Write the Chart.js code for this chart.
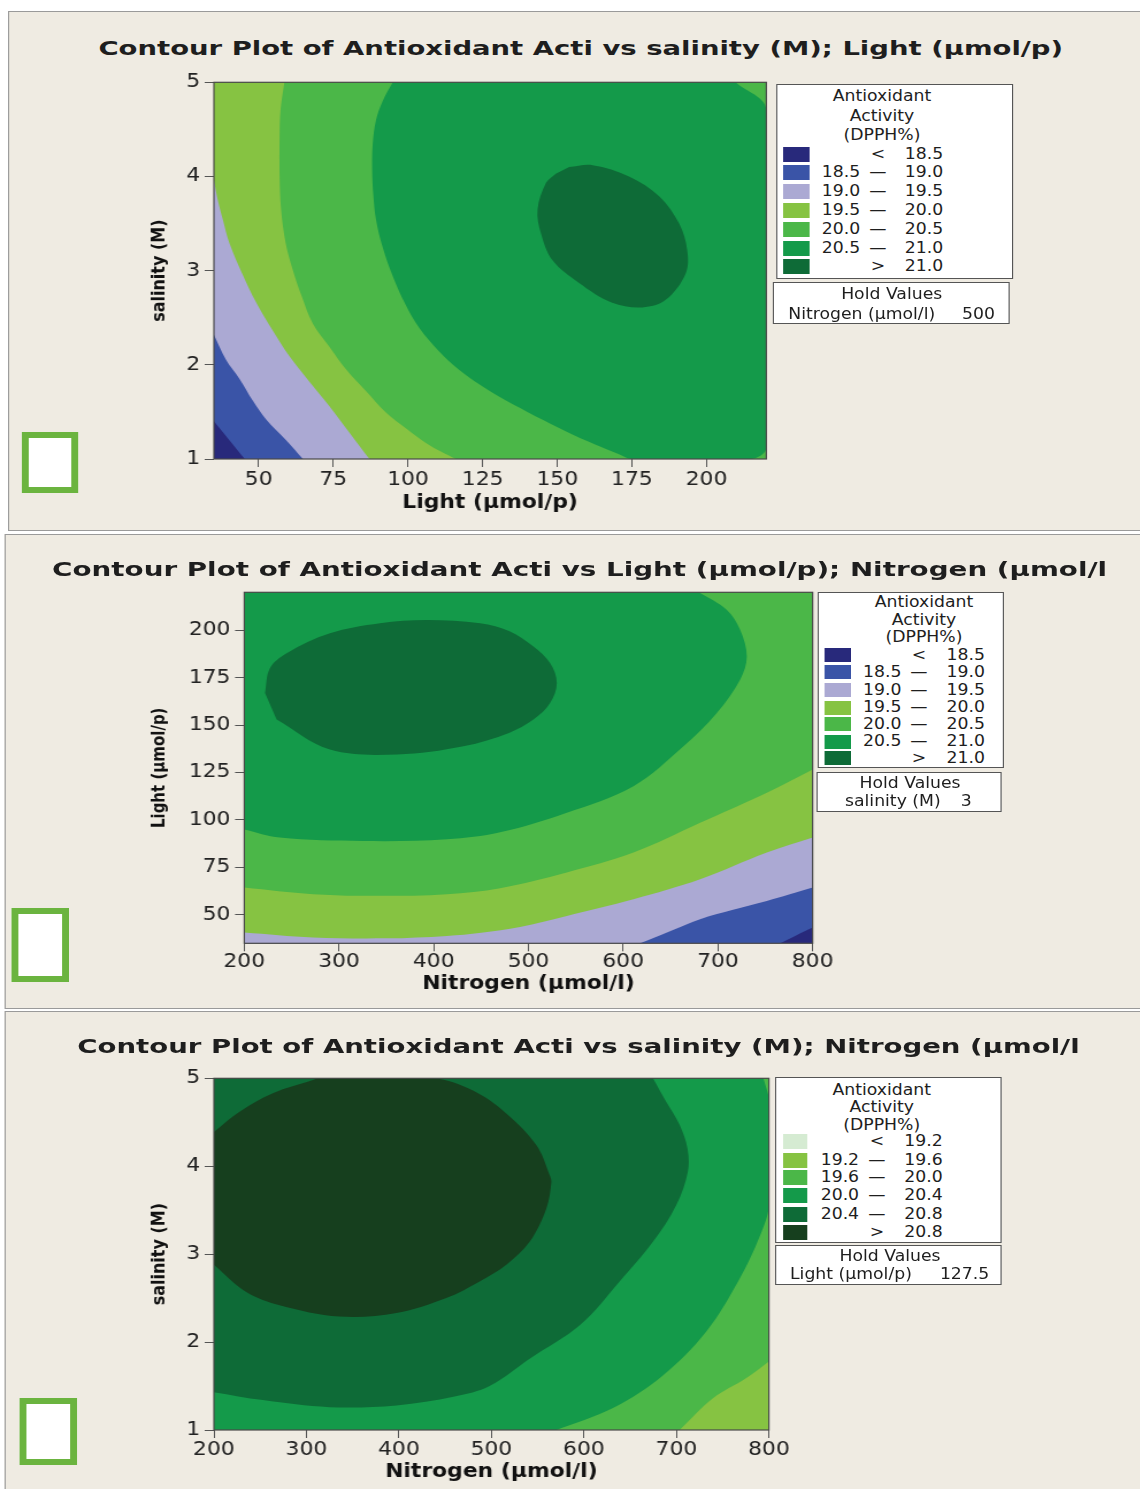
<!DOCTYPE html>
<html>
<head>
<meta charset="utf-8">
<script src="https://cdn.jsdelivr.net/npm/chart.js@4.4.1/dist/chart.umd.min.js"></script>
<style>
html, body { margin: 0; padding: 0; background: #fff; overflow: hidden; }
#page { position: relative; height: 1489px; transform-origin: 0 0; }
.abs { position: absolute; }
.panel { position: absolute; background: #efebe2; border: 1px solid #9a9a9a; box-sizing: border-box; }
.t { position: absolute; font-family: "DejaVu Sans", Verdana, sans-serif; white-space: nowrap; color: #1e1e1e; line-height: 1; }
.box { position: absolute; background: #fff; border: 1px solid #555; box-sizing: border-box; }
.sq { position: absolute; border: 6px solid #6bb43f; background: #fff; box-sizing: border-box; }
.sw { position: absolute; }
</style>
</head>
<body>
<div id="page"></div>
<script>
// ---------- values ----------

// panel 1 : salinity (M) vs Light, Nitrogen held at 500
const p1XTicks = [50, 75, 100, 125, 150, 175, 200];
const p1YTicks = [1, 2, 3, 4, 5];
const p1XRange = [35, 220];
const p1YRange = [1, 5];
const p1C185 = [[35, 1.40], [45.3, 1.0]];
const p1C190 = [[35, 2.32], [39.1, 2.05], [43.6, 1.85], [48, 1.62], [52.5, 1.42], [59.2, 1.20], [64.8, 1.0]];
const p1C195 = [[35, 3.96], [36.3, 3.75], [38.0, 3.54], [40.2, 3.29], [44.6, 2.96], [49.2, 2.66], [54.6, 2.37],
  [60.3, 2.09], [67, 1.82], [73.7, 1.56], [80.4, 1.28], [87.1, 1.0]];
const p1C200 = [[58.6, 5], [57.3, 4.7], [57.0, 4.42], [57.0, 4.0], [57.5, 3.65], [59.0, 3.3], [61.4, 3.01],
  [64.5, 2.72], [68.1, 2.44], [73.5, 2.2], [79.3, 1.95], [86, 1.72], [92.7, 1.49], [99.5, 1.32], [106, 1.17],
  [111, 1.08], [116.1, 1.0]];
const p1C205 = [[94.9, 5], [91.5, 4.8], [89.3, 4.6], [88.2, 4.35], [88.0, 4.07], [88.4, 3.8], [89.3, 3.54],
  [91.5, 3.25], [94.9, 2.94], [99, 2.65], [103.8, 2.39], [110.2, 2.15], [117, 1.95], [124, 1.79], [130.6, 1.66],
  [140, 1.5], [150.6, 1.33], [160, 1.19], [170.7, 1.05], [175, 1.0], [214.7, 1.0], [220, 1.12], [220, 4.71],
  [209.7, 5]];
const p1C210 = [[154.0, 4.10], [161.8, 4.12], [174.0, 4.0], [184.1, 3.79], [190.8, 3.5], [193.5, 3.22],
  [193.0, 2.97], [186.3, 2.69], [178.5, 2.61], [168.4, 2.66], [157.3, 2.87], [148.4, 3.11], [144.5, 3.4],
  [143.4, 3.65], [146.2, 3.93], [149.5, 4.03]];

// panel 2 : Light vs Nitrogen, salinity held at 3
const p2XTicks = [200, 300, 400, 500, 600, 700, 800];
const p2YTicks = [50, 75, 100, 125, 150, 175, 200];
const p2XRange = [200, 800];
const p2YRange = [35, 220];
const p2C185 = [[765.7, 35], [782, 39], [800, 43.3]];
const p2C190 = [[617.9, 35], [650, 41.5], [681.2, 47.7], [715, 52.5], [751.6, 57.3], [775, 60.7], [800, 64.4]];
const p2C195 = [[200, 40.7], [272.9, 38.1], [350, 37.6], [413.7, 38.9], [450, 40.6], [491, 43.6], [540.4, 49.4],
  [610.8, 58.2], [681.2, 68.7], [751.6, 82.8], [800, 90.7]];
const p2C200 = [[200, 64.4], [272.9, 60.9], [343.3, 60.0], [413.7, 60.9], [470, 64], [540.4, 72.3],
  [610.8, 82.8], [681.2, 98.5], [751.6, 114.3], [800, 126.6]];
const p2C205 = [[200, 95.0], [237.7, 90.7], [325.7, 88.9], [413.7, 89.8], [470, 93.5], [540.4, 103.8],
  [610.8, 117.8], [663.6, 138.8], [698.8, 156.4], [723.4, 173.9], [730.5, 186.1], [723.4, 200.2],
  [709.4, 210.7], [680, 220]];
const p2C210 = [[221.9, 166.9], [227.1, 180], [244.8, 187.9], [290.5, 198.4], [343.3, 203.7], [392.6, 205.4],
  [448.9, 203.7], [480, 199.5], [505.2, 191.4], [522.8, 182.7], [529.9, 172.2], [522.8, 161.6], [505.2, 152.9],
  [480, 146], [431.3, 138.8], [361, 134.5], [290.5, 137.1], [234.2, 152.9]];

// panel 3 : salinity vs Nitrogen, Light held at 127.5
const p3XTicks = [200, 300, 400, 500, 600, 700, 800];
const p3YTicks = [1, 2, 3, 4, 5];
const p3XRange = [200, 800];
const p3YRange = [1, 5];
const p3C196 = [[703.5, 1], [739.5, 1.36], [775.6, 1.59], [800, 1.78]];
const p3C200 = [[794, 5], [800, 4.75], [800, 3.55], [790, 3.2], [768.3, 2.72], [732.3, 2.12], [685.4, 1.62],
  [631.4, 1.25], [570.2, 1]];
const p3C204 = [[200, 1.43], [253, 1.34], [325.1, 1.26], [397.2, 1.28], [460, 1.38], [498, 1.5], [541.3, 1.81],
  [595.4, 2.19], [638.6, 2.69], [674.6, 3.14], [699.9, 3.56], [712.4, 3.94], [712, 4.2], [703.5, 4.47],
  [689.1, 4.73], [674.6, 5]];
const p3C208 = [[200, 4.39], [227.8, 4.62], [263.8, 4.83], [307, 4.98], [314, 5], [437, 5], [480, 4.86],
  [516, 4.6], [548.5, 4.24], [562.9, 3.9], [564.8, 3.82], [559.4, 3.52], [541.3, 3.14], [516.1, 2.88],
  [487.2, 2.69], [451.2, 2.5], [397.2, 2.33], [335.9, 2.29], [271, 2.42], [235, 2.57], [200, 2.88]];

// contour levels of the legends
const breaksA = [18.5, 19.0, 19.5, 20.0, 20.5, 21.0];
const breaksB = [19.2, 19.6, 20.0, 20.4, 20.8];
const colorsA = ['#28297b', '#3a54a7', '#aba9d3', '#86c342', '#4bb748', '#149a4a', '#0e6b37'];
const colorsB = ['#d5ebd2', '#86c342', '#4bb748', '#149a4a', '#0e6b37', '#163f1e'];

// ---------- layout ----------
const SX = 1.15;   // the figure is stretched sideways
const FONT = '"DejaVu Sans", Verdana, sans-serif';
const page = document.getElementById('page');
page.style.width = (1140 / SX) + 'px';
page.style.transform = 'scale(' + SX + ',1)';

function el(cls, x, y, w, h, text) {
    const d = document.createElement('div');
    d.className = cls;
    d.style.left = (x / SX) + 'px';
    d.style.top = y + 'px';
    if (w != null) d.style.width = (w / SX) + 'px';
    if (h != null) d.style.height = h + 'px';
    if (text != null) d.textContent = text;
    page.appendChild(d);
    return d;
}

function txt(x, y, s, align, size, bold) {
    const d = el('t', x, y - size / 2, null, null, s);
    d.style.fontSize = size + 'px';
    if (bold) d.style.fontWeight = 'bold';
    if (align === 'c') d.style.transform = 'translateX(-50%)';
    if (align === 'r') d.style.transform = 'translateX(-100%)';
    return d;
}

function title(xc, yc, s, width) {
    const d = txt(xc, yc, s, 'c', 20, true);
    const k = (width / SX) / d.offsetWidth;
    d.style.transform = 'translateX(-50%) scaleX(' + k + ')';
}

// plot frame
const frame = {
    id: 'frame',
    afterDatasetsDraw(chart) {
        const { ctx, chartArea: a } = chart;
        ctx.save();
        ctx.strokeStyle = '#4a4a4a';
        ctx.lineWidth = 1.2;
        ctx.strokeRect(a.left, a.top, a.right - a.left, a.bottom - a.top);
        ctx.restore();
    }
};

// a guide point beyond each open end so the smoothing keeps its direction at the plot edge
function withEnds(pts) {
    const a = pts[0], b = pts[1], y = pts[pts.length - 1], z = pts[pts.length - 2];
    return [[2 * a[0] - b[0], 2 * a[1] - b[1]]].concat(pts, [[2 * y[0] - z[0], 2 * y[1] - z[1]]]);
}

function drawPanel(cfg) {
    const [cx, cy, cw, ch] = cfg.canvas;
    const [ax0, ay0, ax1, ay1] = cfg.area;
    const wrap = el('abs', cx, cy, cw, ch);
    const cv = document.createElement('canvas');
    const W = Math.round(cw / SX);
    cv.width = W;
    cv.height = ch;
    wrap.appendChild(cv);

    const yW = (ax0 - cx) / SX;
    const padR = W - (ax1 - cx) / SX;
    const padT = ay0 - cy;
    const xH = cy + ch - ay1;

    const xr = cfg.xRange, yr = cfg.yRange;
    const dx = (xr[1] - xr[0]) * 0.08, dy = (yr[1] - yr[0]) * 0.08;
    const corner = {
        bl: [xr[0] - dx, yr[0] - dy], br: [xr[1] + dx, yr[0] - dy],
        tr: [xr[1] + dx, yr[1] + dy], tl: [xr[0] - dx, yr[1] + dy]
    };
    const n = cfg.layers.length;
    const datasets = cfg.layers.map((L, i) => {
        const pts = (L.close.length && L.pts.length > 1) ? withEnds(L.pts) : L.pts;
        return {
            data: pts.concat(L.close.map(k => corner[k])).map(p => ({ x: p[0], y: p[1] })),
            backgroundColor: cfg.colors[L.c],
            borderWidth: 0,
            pointRadius: 0,
            pointHoverRadius: 0,
            fill: 'shape',
            tension: L.pts.length > 2 ? 0.35 : 0,
            order: n - i
        };
    });

    const tickFont = { family: FONT, size: 19 };
    const grid = { display: true, drawOnChartArea: false, drawTicks: true, tickLength: 8, color: '#555' };

    new Chart(cv, {
        type: 'line',
        data: { datasets },
        options: {
            responsive: false,
            animation: false,
            events: [],
            elements: { line: { capBezierPoints: false } },
            layout: { padding: { left: 0, top: padT, right: padR, bottom: 0 } },
            plugins: { legend: { display: false }, tooltip: { enabled: false } },
            scales: {
                x: {
                    type: 'linear', min: xr[0], max: xr[1],
                    afterBuildTicks: s => { s.ticks = cfg.xTicks.map(v => ({ value: v })); },
                    afterFit: s => { s.height = xH; },
                    ticks: { font: tickFont, color: '#222', padding: cfg.xTickPad, autoSkip: false, maxRotation: 0 },
                    grid: grid,
                    border: { display: false },
                    title: {
                        display: true, text: cfg.xTitle, color: '#111',
                        font: { family: FONT, size: 19, weight: 'bold' },
                        padding: { top: 0, bottom: (cy + ch - cfg.xTitleY) - 19 * 0.6 }
                    }
                },
                y: {
                    type: 'linear', min: yr[0], max: yr[1],
                    afterBuildTicks: s => { s.ticks = cfg.yTicks.map(v => ({ value: v })); },
                    afterFit: s => { s.width = yW; },
                    ticks: { font: tickFont, color: '#222', padding: 4, autoSkip: false },
                    grid: grid,
                    border: { display: false },
                    title: {
                        display: true, text: cfg.yTitle, color: '#111',
                        font: { family: FONT, size: cfg.yTitleSize, weight: 'bold' },
                        padding: { top: (cfg.yTitleX - cx) / SX - cfg.yTitleSize * 0.6, bottom: 0 }
                    }
                }
            }
        },
        plugins: [frame]
    });
}

function legend(L, breaks, colors) {
    el('box', L.box[0], L.box[1], L.box[2], L.box[3]);
    ['Antioxidant', 'Activity', '(DPPH%)'].forEach((s, i) => txt(L.titleX, L.titleY[i], s, 'c', 15));
    const nb = breaks.length;
    for (let i = 0; i <= nb; i++) {
        const y = L.rows[i];
        const sw = el('sw', L.swX, y - L.swH / 2, L.swW, L.swH);
        sw.style.background = colors[i];
        if (i === 0) {
            txt(L.col2, y, '<', 'c', 15);
            txt(L.col3, y, breaks[0].toFixed(1), 'r', 15);
        } else if (i === nb) {
            txt(L.col2, y, '>', 'c', 15);
            txt(L.col3, y, breaks[nb - 1].toFixed(1), 'r', 15);
        } else {
            txt(L.col1, y, breaks[i - 1].toFixed(1), 'l', 15);
            txt(L.col2, y, '\u2014', 'c', 15);
            txt(L.col3, y, breaks[i].toFixed(1), 'r', 15);
        }
    }
    el('box', L.hold[0], L.hold[1], L.hold[2], L.hold[3]);
    txt(L.holdX, L.holdY, 'Hold Values', 'c', 15);
    txt(L.nameX, L.nameY, L.name, 'l', 15);
    txt(L.valX, L.nameY, L.value, 'r', 15);
}

// panel backgrounds
el('panel', 8, 11, 1160, 520);
el('panel', 5, 534, 1160, 475);
el('panel', 5, 1011, 1160, 490);

drawPanel({
    canvas: [120, 62, 670, 468], area: [214.3, 82.3, 766.7, 459],
    xRange: p1XRange, yRange: p1YRange, xTicks: p1XTicks, yTicks: p1YTicks, xTickPad: 2,
    xTitle: 'Light (\u00b5mol/p)', xTitleY: 503, yTitle: 'salinity (M)', yTitleX: 160, yTitleSize: 16,
    colors: colorsA,
    layers: [
        { pts: [], close: ['bl', 'br', 'tr', 'tl'], c: 0 },
        { pts: p1C185, close: ['br', 'tr', 'tl'], c: 1 },
        { pts: p1C190, close: ['br', 'tr', 'tl'], c: 2 },
        { pts: p1C195, close: ['br', 'tr', 'tl'], c: 3 },
        { pts: p1C200, close: ['br', 'tr'], c: 4 },
        { pts: p1C205, close: [], c: 5 },
        { pts: p1C210, close: [], c: 6 }
    ]
});

drawPanel({
    canvas: [130, 572, 715, 437], area: [244.3, 592.3, 812.7, 943.3],
    xRange: p2XRange, yRange: p2YRange, xTicks: p2XTicks, yTicks: p2YTicks, xTickPad: -1,
    xTitle: 'Nitrogen (\u00b5mol/l)', xTitleY: 984, yTitle: 'Light (\u00b5mol/p)', yTitleX: 160, yTitleSize: 15,
    colors: colorsA,
    layers: [
        { pts: [], close: ['bl', 'br', 'tr', 'tl'], c: 0 },
        { pts: p2C185, close: ['tr', 'tl', 'bl'], c: 1 },
        { pts: p2C190, close: ['tr', 'tl', 'bl'], c: 2 },
        { pts: p2C195, close: ['tr', 'tl'], c: 3 },
        { pts: p2C200, close: ['tr', 'tl'], c: 4 },
        { pts: p2C205, close: ['tl'], c: 5 },
        { pts: p2C210, close: [], c: 6 }
    ]
});

drawPanel({
    canvas: [120, 1058, 680, 431], area: [214.3, 1078.3, 769.3, 1430],
    xRange: p3XRange, yRange: p3YRange, xTicks: p3XTicks, yTicks: p3YTicks, xTickPad: 1,
    xTitle: 'Nitrogen (\u00b5mol/l)', xTitleY: 1472, yTitle: 'salinity (M)', yTitleX: 160, yTitleSize: 16,
    colors: colorsB,
    layers: [
        { pts: [], close: ['bl', 'br', 'tr', 'tl'], c: 1 },
        { pts: p3C196, close: ['tr', 'tl', 'bl'], c: 2 },
        { pts: p3C200, close: ['bl', 'tl'], c: 3 },
        { pts: p3C204, close: ['tl'], c: 4 },
        { pts: p3C208, close: [], c: 5 }
    ]
});

// titles
title(580.5, 47.5, 'Contour Plot of Antioxidant Acti vs salinity (M); Light (\u00b5mol/p)', 965);
title(579.5, 569, 'Contour Plot of Antioxidant Acti vs Light (\u00b5mol/p); Nitrogen (\u00b5mol/l', 1055);
title(579, 1046, 'Contour Plot of Antioxidant Acti vs salinity (M); Nitrogen (\u00b5mol/l', 1002);

// legends
legend({
    box: [776.7, 84.3, 236.6, 194.7], titleX: 882, titleY: [96.7, 116.7, 135],
    rows: [154.3, 172.7, 191.7, 210, 229, 248.3, 266.7],
    swX: 783.3, swW: 26, swH: 15, col1: 821.7, col2: 878, col3: 943.3,
    hold: [772.7, 281.7, 237.3, 42.6], holdX: 891.7, holdY: 294.3,
    name: 'Nitrogen (\u00b5mol/l)', value: '500', nameX: 788.3, nameY: 314.3, valX: 995
}, breaksA, colorsA);

legend({
    box: [817.3, 592.3, 186.7, 176], titleX: 924, titleY: [602.3, 620, 637.7],
    rows: [655, 672.3, 690, 707.7, 724.3, 741.7, 758.3],
    swX: 825, swW: 25.7, swH: 14, col1: 863, col2: 919, col3: 985,
    hold: [816, 772.3, 186, 39.4], holdX: 910, holdY: 783.3,
    name: 'salinity (M)', value: '3', nameX: 845, nameY: 801.7, valX: 971.7
}, breaksA, colorsA);

legend({
    box: [775, 1077.3, 226.7, 166], titleX: 881.7, titleY: [1090, 1107.3, 1125],
    rows: [1141.7, 1160, 1177.3, 1195.7, 1214, 1232.3],
    swX: 782.7, swW: 24.6, swH: 15, col1: 820.7, col2: 877, col3: 942.7,
    hold: [775, 1245, 226.7, 40], holdX: 890, holdY: 1256.7,
    name: 'Light (\u00b5mol/p)', value: '127.5', nameX: 790, nameY: 1274, valX: 989.3
}, breaksB, colorsB);

// empty green boxes at the left of each panel
el('sq', 22, 432, 56, 61);
el('sq', 12, 908, 57, 74);
el('sq', 20, 1398, 57, 67);
</script>
</body>
</html>
